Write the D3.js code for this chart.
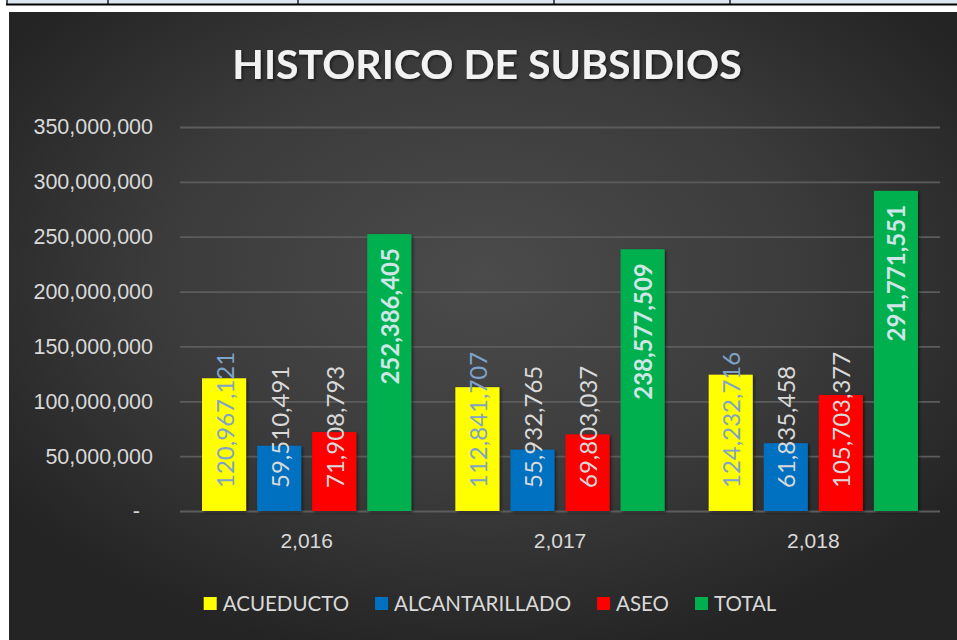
<!DOCTYPE html>
<html>
<head>
<meta charset="utf-8">
<script src="https://cdn.jsdelivr.net/npm/d3@7"></script>
<style>
    body { margin: 0; background: #ffffff; }
    svg { display: block; font-family: Lato, "Open Sans", sans-serif; }
</style>
</head>
<body>
<div id="chartContainerId"></div>
<script>

// Chart data

var years = ["2,016", "2,017", "2,018"];
var seriesNames = ["ACUEDUCTO", "ALCANTARILLADO", "ASEO", "TOTAL"];
var acueducto = [120967121, 112841707, 124232716];
var alcantarillado = [59510491, 55932765, 61835458];
var aseo = [71908793, 69803037, 105703377];
var total = [252386405, 238577509, 291771551];
var yTicks = [0, 50000000, 100000000, 150000000, 200000000, 250000000, 300000000, 350000000];
var tableLines = [7, 108, 298, 554, 730];


(function() {

    "use strict";

    var full = {w: 957, h: 640};
    var frame = {x: 9, y: 12, w: 948, h: 628};
    var plot = {left: 180, right: 940, top: 127, bottom: 511};

    var seriesValues = [acueducto, alcantarillado, aseo, total];
    var seriesColors = ["#ffff00", "#0070c0", "#ff0000", "#00b050"];
    var labelColors = ["#7fa3c8", "#d9d9d9", "#d9d9d9", "#cfe6e6"];

    var rows = years.map(function(y, i) {
        return {year: y, values: seriesNames.map(function(s, j) { return {series: s, index: j, value: seriesValues[j][i]}; })};
    });

    var svg = d3.select("#chartContainerId")
                .append("svg")
                .attr("width", full.w)
                .attr("height", full.h);

    var defs = svg.append("defs");

    var bg = defs.append("radialGradient")
                 .attr("id", "bgGradientId")
                 .attr("cx", "50%").attr("cy", "42%").attr("r", "62%");
    bg.append("stop").attr("offset", "0%").attr("stop-color", "#4b4b4b");
    bg.append("stop").attr("offset", "55%").attr("stop-color", "#3b3b3b");
    bg.append("stop").attr("offset", "100%").attr("stop-color", "#242424");

    var shadow = defs.append("filter").attr("id", "shadowId")
                     .attr("x", "-20%").attr("y", "-20%").attr("width", "140%").attr("height", "140%");
    shadow.append("feDropShadow").attr("dx", 1.5).attr("dy", 1.5).attr("stdDeviation", 1.8)
          .attr("flood-color", "#000").attr("flood-opacity", 0.55);

    // spreadsheet cells peeking in above the chart
    var table = svg.append("g");
    table.append("rect").attr("x", 7).attr("y", 0).attr("width", full.w - 7).attr("height", 4).attr("fill", "#dce6f1");
    table.selectAll("line.cell")
         .data(tableLines)
         .enter()
         .append("line")
           .attr("x1", function(d) { return d; }).attr("x2", function(d) { return d; })
           .attr("y1", 0).attr("y2", 5)
           .attr("stroke", "#000").attr("stroke-width", 1.3);
    table.append("line").attr("x1", 6).attr("x2", full.w).attr("y1", 4.5).attr("y2", 4.5)
         .attr("stroke", "#000").attr("stroke-width", 1.8);

    svg.append("rect")
       .attr("x", frame.x).attr("y", frame.y)
       .attr("width", frame.w).attr("height", frame.h)
       .attr("fill", "url(#bgGradientId)");

    var xScale = d3.scaleBand()
                   .domain(years)
                   .range([plot.left, plot.right]);

    var xInner = d3.scaleBand()
                   .domain(seriesNames)
                   .range([0, xScale.bandwidth()])
                   .paddingInner(0.2)
                   .paddingOuter(0.4);

    var yScale = d3.scaleLinear()
                   .domain([0, 350000000])
                   .range([plot.bottom, plot.top]);

    var fmt = d3.format(",");

    // grid + y labels
    var yAxis = d3.axisLeft(yScale)
                  .tickValues(yTicks)
                  .tickSize(-(plot.right - plot.left))
                  .tickPadding(27)
                  .tickFormat(function(d) { return d === 0 ? "-" : fmt(d); });

    var yAxisGroup = svg.append("g")
                        .attr("transform", "translate(" + plot.left + ",0)")
                        .call(yAxis);
    yAxisGroup.select(".domain").remove();
    yAxisGroup.selectAll(".tick line").attr("stroke", "#5c5c5c").attr("stroke-width", 1.8);
    yAxisGroup.selectAll(".tick text")
              .attr("fill", "#d9d9d9")
              .attr("font-size", "21.5px")
              .attr("dx", function(d) { return d === 0 ? -13 : 0; });

    // x labels
    var xAxis = d3.axisBottom(xScale).tickSize(0).tickPadding(22);
    var xAxisGroup = svg.append("g")
                        .attr("transform", "translate(0," + plot.bottom + ")")
                        .call(xAxis);
    xAxisGroup.select(".domain").remove();
    xAxisGroup.selectAll(".tick text").attr("fill", "#d9d9d9").attr("font-size", "21px");

    // bars
    var groups = svg.append("g").selectAll("g.year")
                    .data(rows)
                    .enter()
                    .append("g")
                      .attr("transform", function(d) { return "translate(" + xScale(d.year) + ",0)"; });

    groups.selectAll("rect")
          .data(function(d) { return d.values; })
          .enter()
          .append("rect")
            .attr("x", function(d) { return xInner(d.series); })
            .attr("width", xInner.bandwidth())
            .attr("y", function(d) { return yScale(d.value); })
            .attr("height", function(d) { return yScale(0) - yScale(d.value); })
            .attr("fill", function(d) { return seriesColors[d.index]; })
            .attr("filter", "url(#shadowId)");

    // data labels, rotated
    groups.selectAll("text")
          .data(function(d) { return d.values; })
          .enter()
          .append("text")
            .attr("transform", function(d) {
                var cx = xInner(d.series) + xInner.bandwidth() / 2;
                var cy = d.series === "TOTAL" ? yScale(d.value) + 14 : yScale(0) - 23;
                return "translate(" + cx + "," + cy + ") rotate(-90)";
            })
            .attr("text-anchor", function(d) { return d.series === "TOTAL" ? "end" : "start"; })
            .attr("dominant-baseline", "central")
            .attr("font-size", "24px")
            .attr("font-weight", function(d) { return d.series === "TOTAL" ? "bold" : "normal"; })
            .attr("fill", function(d) { return labelColors[d.index]; })
            .text(function(d) { return fmt(d.value); });

    // title
    svg.append("text")
       .attr("x", 487)
       .attr("y", 79)
       .attr("text-anchor", "middle")
       .attr("font-size", "41px")
       .attr("font-weight", "bold")
       .attr("fill", "#f2f2f2")
       .attr("filter", "url(#shadowId)")
       .text("HISTORICO DE SUBSIDIOS");

    // legend
    var legend = svg.append("g");
    var items = legend.selectAll("g")
                      .data(seriesNames)
                      .enter()
                      .append("g");
    items.append("rect")
         .attr("width", 13).attr("height", 13)
         .attr("y", 597)
         .attr("fill", function(d, i) { return seriesColors[i]; });
    items.append("text")
         .attr("x", 19)
         .attr("y", 611)
         .attr("font-size", "20.5px")
         .attr("fill", "#d9d9d9")
         .text(function(d) { return d; });

    var cursor = 0;
    var offsets = [];
    items.each(function() {
        offsets.push(cursor);
        cursor += 19 + d3.select(this).select("text").node().getComputedTextLength() + 26;
    });
    var legendWidth = cursor - 26;
    var legendStart = 490 - legendWidth / 2;
    items.attr("transform", function(d, i) { return "translate(" + (legendStart + offsets[i]) + ",0)"; });

})();

</script>
</body>
</html>
